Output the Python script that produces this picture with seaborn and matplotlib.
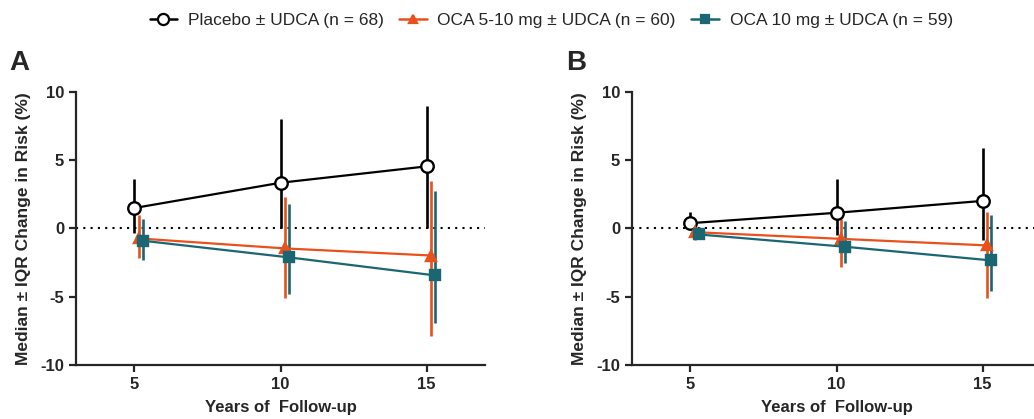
import numpy as np
import pandas as pd
import seaborn as sns
import matplotlib.pyplot as plt
from matplotlib.lines import Line2D

years = [5, 10, 15]
groups = ["Placebo ± UDCA (n = 68)", "OCA 5-10 mg ± UDCA (n = 60)", "OCA 10 mg ± UDCA (n = 59)"]

# panel A: median, lower IQR, upper IQR
a_placebo = [1.5, 3.35, 4.55]
a_placebo_lo = [-0.3, 0.05, 0.05]
a_placebo_hi = [3.65, 8.05, 9.0]
a_oca510 = [-0.73, -1.46, -1.98]
a_oca510_lo = [-2.15, -5.07, -7.88]
a_oca510_hi = [0.98, 2.3, 3.46]
a_oca10 = [-0.9, -2.12, -3.44]
a_oca10_lo = [-2.32, -4.83, -6.95]
a_oca10_hi = [0.73, 1.8, 2.73]

# panel B
b_placebo = [0.39, 1.15, 2.02]
b_placebo_lo = [0.0, -0.5, -0.85]
b_placebo_hi = [1.2, 3.63, 5.93]
b_oca510 = [-0.27, -0.76, -1.24]
b_oca510_lo = [-0.88, -2.83, -5.07]
b_oca510_hi = [0.1, 0.66, 1.2]
b_oca10 = [-0.44, -1.34, -2.34]
b_oca10_lo = [-0.75, -2.51, -4.59]
b_oca10_hi = [0.1, 0.54, 0.98]

colors = ["#000000", "#E8501C", "#1B6673"]
markers = ["o", "^", "s"]
msizes = [9, 6.5, 6.5]
dodge = [0.0, 0.15, 0.3]

sns.set_style("ticks")
plt.rcParams["font.family"] = ["Liberation Sans", "DejaVu Sans"]

fig = plt.figure(figsize=(10.34, 4.19), dpi=100)
axA = fig.add_axes([0.0735, 0.1289, 0.3956, 0.6516])
axB = fig.add_axes([0.6112, 0.1289, 0.3956, 0.6516])

panels = [
    (axA, [(a_placebo, a_placebo_lo, a_placebo_hi), (a_oca510, a_oca510_lo, a_oca510_hi), (a_oca10, a_oca10_lo, a_oca10_hi)], "A"),
    (axB, [(b_placebo, b_placebo_lo, b_placebo_hi), (b_oca510, b_oca510_lo, b_oca510_hi), (b_oca10, b_oca10_lo, b_oca10_hi)], "B"),
]

for ax, series, letter in panels:
    ax.axhline(0, color="black", ls=(0, (1, 2.5)), lw=1.5, zorder=1)
    for i, (med, lo, hi) in enumerate(series):
        xs = np.array(years) + dodge[i]
        df = pd.DataFrame({"x": xs, "y": med})
        ax.vlines(xs, lo, hi, color=colors[i], lw=1.9, zorder=2 + i)
        sns.lineplot(data=df, x="x", y="y", ax=ax, color=colors[i], lw=1.6,
                     marker=markers[i], markersize=msizes[i],
                     markerfacecolor="white" if i == 0 else colors[i],
                     markeredgecolor=colors[i], markeredgewidth=1.7,
                     zorder=5 + i)
    ax.set_xlim(3, 17)
    ax.set_ylim(-10, 10)
    ax.set_xticks(years)
    ax.set_yticks([-10, -5, 0, 5, 10])
    ax.set_yticklabels(["-10", "-5", "0", "5", "10"])
    for s in ["top", "right"]:
        ax.spines[s].set_visible(False)
    for s in ["left", "bottom"]:
        ax.spines[s].set_linewidth(1.6)
    ax.tick_params(width=1.6, length=5, labelsize=12)
    for lab in ax.get_xticklabels() + ax.get_yticklabels():
        lab.set_fontweight("bold")
    ax.set_xlabel("Years of  Follow-up", fontsize=12, fontweight="bold", labelpad=6)
    ax.set_ylabel("Median ± IQR Change in Risk (%)", fontsize=12.5, fontweight="bold", labelpad=7)
    ax.text(-0.162, 1.105, letter, transform=ax.transAxes, fontsize=20, fontweight="bold",
            ha="left", va="center")

handles = [Line2D([], [], color=colors[i], marker=markers[i], markersize=msizes[i] - 1,
                  markerfacecolor="white" if i == 0 else colors[i],
                  markeredgewidth=1.6, lw=1.8) for i in range(3)]
fig.legend(handles, groups, loc="center", bbox_to_anchor=(0.533, 0.952), ncol=3,
           frameon=False, fontsize=12.5, handlelength=1.6, handletextpad=0.6,
           columnspacing=0.9)

fig.savefig("out.png", dpi=100)
